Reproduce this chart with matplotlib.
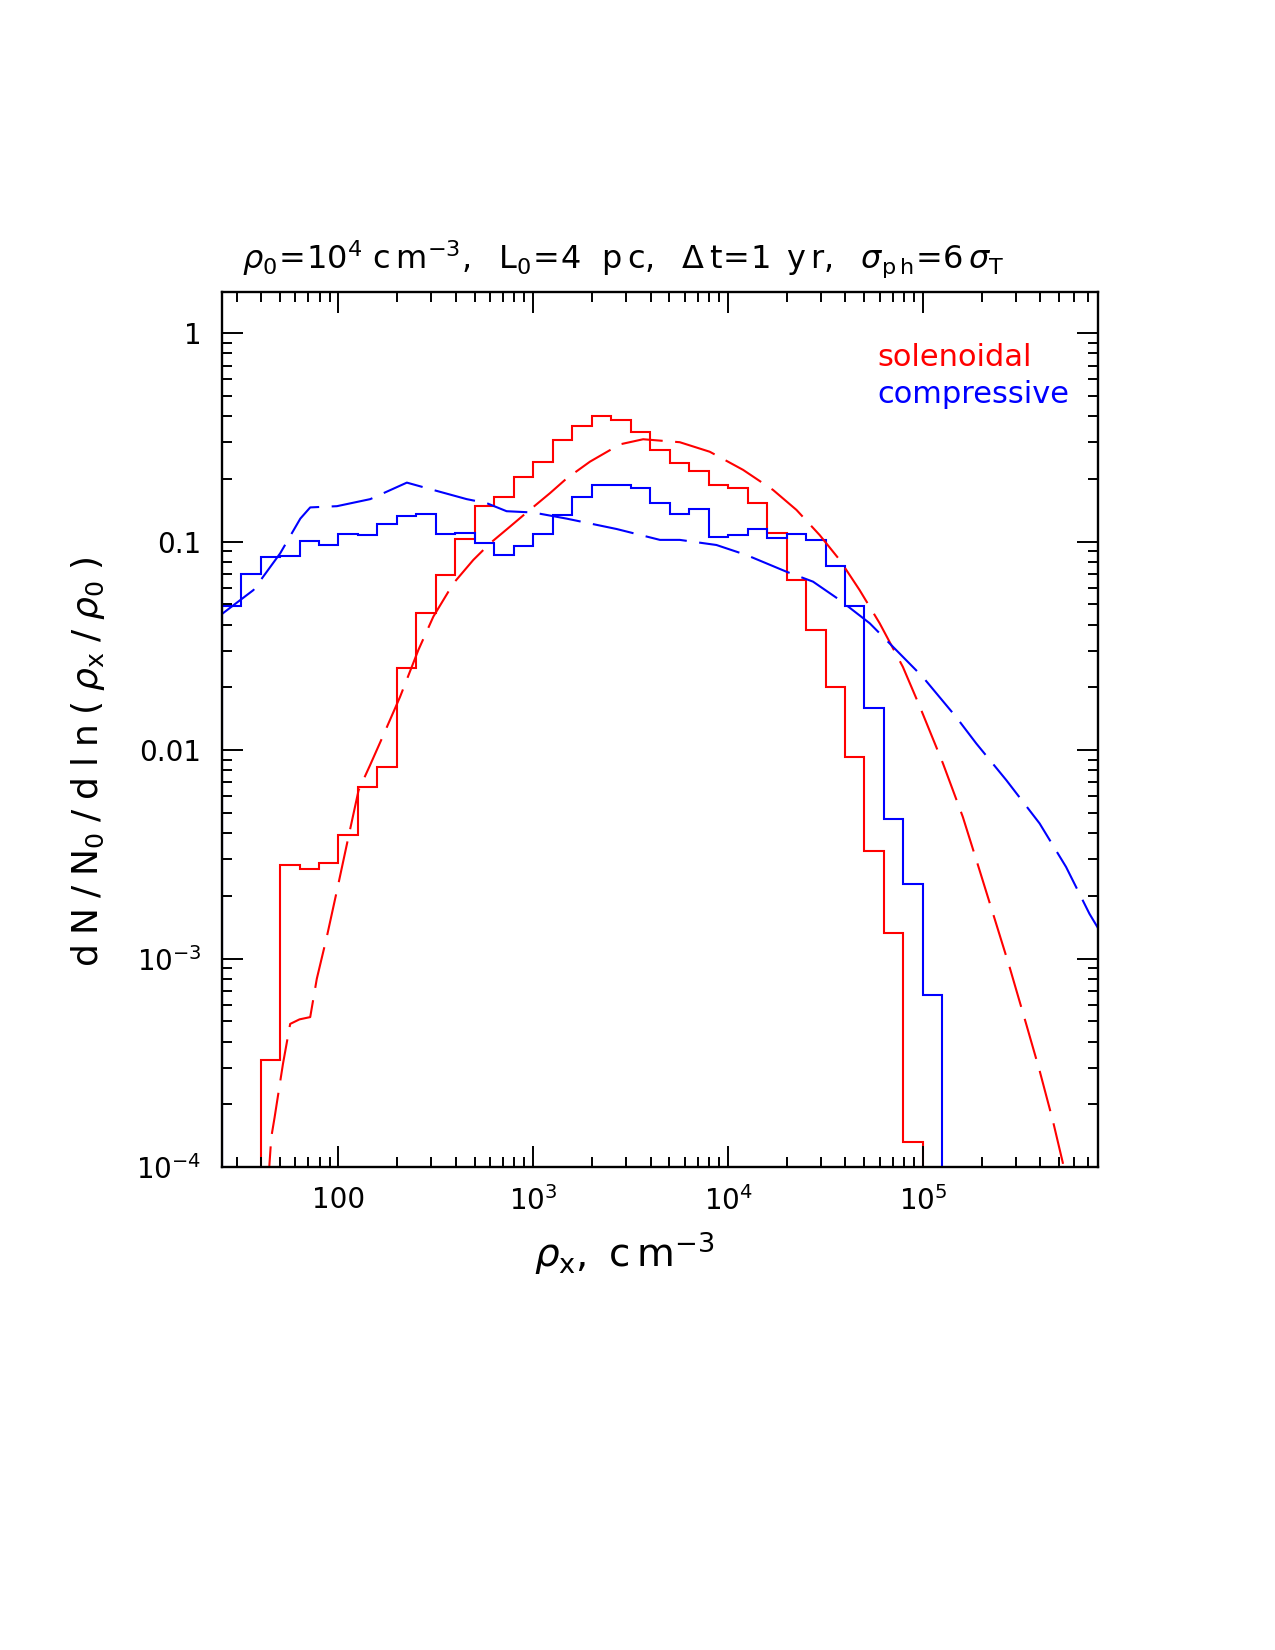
import numpy as np
import matplotlib
matplotlib.use("Agg")
import matplotlib.pyplot as plt
from matplotlib.ticker import FixedLocator, FixedFormatter, LogLocator, NullFormatter

# ---------------- data ----------------
# histogram bin edges (cm^-3), 0.1 dex wide
edges = [25.12, 31.62, 39.81, 50.12, 63.10, 79.43, 100.0, 125.9, 158.5, 199.5,
         251.2, 316.2, 398.1, 501.2, 631.0, 794.3, 1000.0, 1259.0, 1585.0, 1995.0,
         2512.0, 3162.0, 3981.0, 5012.0, 6310.0, 7943.0, 1.0e4, 12589.0, 15849.0, 19953.0,
         25119.0, 31623.0, 39811.0, 50119.0, 63096.0, 79433.0, 1.0e5, 125893.0]

# compressive histogram (bins starting at 25.12)
comp_hist = [0.049, 0.070, 0.084, 0.085, 0.101, 0.096, 0.109, 0.108, 0.121, 0.133,
             0.136, 0.109, 0.1095, 0.099, 0.086, 0.0955, 0.109, 0.134, 0.164, 0.188,
             0.186, 0.1815, 0.154, 0.136, 0.1435, 0.105, 0.1076, 0.1154, 0.1037, 0.1084,
             0.1018, 0.0764, 0.049, 0.016, 0.00468, 0.00227, 0.000666]

# solenoidal histogram (bins starting at 39.81)
sol_hist = [3.27e-4, 2.82e-3, 2.70e-3, 2.89e-3, 3.93e-3, 6.66e-3, 8.3e-3, 0.0248, 0.0456, 0.0691,
            0.1026, 0.1477, 0.1637, 0.2035, 0.2404, 0.306, 0.359, 0.401, 0.385, 0.335,
            0.276, 0.238, 0.218, 0.188, 0.180, 0.154, 0.1096, 0.0652, 0.0379, 0.020,
            0.00928, 0.00328, 0.00132, 1.32e-4]

# solenoidal dashed curve
sol_curve_x = [43.4, 45.2, 47.0, 51.9, 56.5, 63.1, 71.6, 77.4, 87.1, 98.2,
               112.5, 126.8, 145.6, 167.1, 207.0, 257.0, 306.9, 389.0, 492.0, 600.0,
               758.6, 924.7, 1219, 1483, 1954, 2786, 3664, 5649, 8054, 11940,
               17022, 22439, 29512, 37411, 47315, 59979, 78886, 96605, 126765, 160325,
               195434, 237684, 278612, 338844, 397192, 464515, 522396, 537032]
sol_curve_y = [7.94e-5, 1.39e-4, 1.73e-4, 3.13e-4, 4.86e-4, 5.11e-4, 5.24e-4, 8.0e-4, 1.27e-3, 2.12e-3,
               3.83e-3, 6.41e-3, 8.51e-3, 0.01138, 0.0180, 0.0302, 0.0437, 0.0631, 0.0817, 0.0982,
               0.118, 0.138, 0.171, 0.201, 0.242, 0.293, 0.310, 0.300, 0.270, 0.221,
               0.177, 0.142, 0.1076, 0.0817, 0.0586, 0.0406, 0.0251, 0.0161, 8.63e-3, 4.78e-3,
               2.65e-3, 1.47e-3, 9.10e-4, 4.86e-4, 2.90e-4, 1.67e-4, 1.05e-4, 8.9e-5]

# compressive dashed curve
comp_curve_x = [25.0, 36.6, 50.2, 63.7, 71.6, 98.2, 145.6, 224.4, 306.9, 455.0,
                576.8, 729.5, 1000, 1483, 2679, 4467, 5649, 8710, 12417, 19907,
                27290, 37411, 53333, 72946, 100000, 148252, 187932, 267917, 397192, 543250,
                716143, 799834]
comp_curve_y = [0.0447, 0.0586, 0.0879, 0.129, 0.146, 0.148, 0.160, 0.192, 0.177, 0.160,
                0.153, 0.140, 0.138, 0.129, 0.115, 0.102, 0.102, 0.0964, 0.0863, 0.0718,
                0.0643, 0.0525, 0.0406, 0.0302, 0.0224, 0.0144, 0.01076, 7.18e-3, 4.45e-3, 2.75e-3,
                1.64e-3, 1.38e-3]

x_ticks = [100, 1e3, 1e4, 1e5]
x_tick_labels = ["100", r"$10^3$", r"$10^4$", r"$10^5$"]
y_ticks = [1e-4, 1e-3, 1e-2, 0.1, 1]
y_tick_labels = [r"$10^{-4}$", r"$10^{-3}$", "0.01", "0.1", "1"]

# ---------------- style ----------------
plt.rcParams["font.family"] = ["DejaVu Sans"]
plt.rcParams["mathtext.fontset"] = "dejavusans"
plt.rcParams["mathtext.default"] = "regular"

fig = plt.figure(figsize=(12.75, 16.5), dpi=100)
ax = fig.add_axes([0.1744, 0.2927, 0.6866, 0.5301])

RED = "#ff0000"
BLUE = "#0000ff"
lw = 1.5

ax.stairs(sol_hist, edges[2:37], baseline=1e-6, fill=False, color=RED, lw=lw)
ax.stairs(comp_hist, edges, baseline=1e-6, fill=False, color=BLUE, lw=lw)
ax.plot(sol_curve_x, sol_curve_y, color=RED, lw=lw, dashes=(20, 6))
ax.plot(comp_curve_x, comp_curve_y, color=BLUE, lw=lw, dashes=(20, 6))

ax.set_xscale("log")
ax.set_yscale("log")
ax.set_xlim(25.35, 7.9e5)
ax.set_ylim(1e-4, 1.57)

ax.xaxis.set_major_locator(FixedLocator(x_ticks))
ax.xaxis.set_major_formatter(FixedFormatter(x_tick_labels))
ax.yaxis.set_major_locator(FixedLocator(y_ticks))
ax.yaxis.set_major_formatter(FixedFormatter(y_tick_labels))
ax.xaxis.set_minor_locator(LogLocator(base=10, subs=np.arange(2, 10), numticks=20))
ax.yaxis.set_minor_locator(LogLocator(base=10, subs=np.arange(2, 10), numticks=20))
ax.xaxis.set_minor_formatter(NullFormatter())
ax.yaxis.set_minor_formatter(NullFormatter())

ax.tick_params(which="both", direction="in", top=True, right=True, colors="black")
ax.tick_params(which="major", length=15, width=1.4, labelsize=20)
ax.tick_params(which="minor", length=7.5, width=1.4)
ax.tick_params(axis="x", which="major", pad=14)
ax.tick_params(axis="y", which="major", pad=15)
for s in ax.spines.values():
    s.set_linewidth(1.7)

# title
ax.text(0.023, 1.027,
        r"$\mathit{\rho}_0\!=\!10^4\ c\,m^{-3},\ \ L_0\!=\!4\ \ p\,c,\ \ \Delta\,t\!=\!1\ \,y\,r,\ \ \mathit{\sigma}_{p\,h}\!=\!6\,\mathit{\sigma}_T$",
        transform=ax.transAxes, ha="left", va="baseline", fontsize=23)

# axis labels
ax.text(0.356, -0.099, r"$\mathit{\rho}_x,\ c\,m^{-3}$", transform=ax.transAxes,
        ha="left", va="center", fontsize=28)
ax.text(-0.1535, 0.229, r"$d\;N\;/\;N_0\;/\;d\;l\;n\;(\;\mathit{\rho}_x\;/\;\mathit{\rho}_0\;)$",
        transform=ax.transAxes, ha="center", va="bottom", rotation=90, fontsize=26)

# legend text
ax.text(0.7485, 0.916, "solenoidal", color=RED, transform=ax.transAxes,
        ha="left", va="baseline", fontsize=22)
ax.text(0.7485, 0.873, "compressive", color=BLUE, transform=ax.transAxes,
        ha="left", va="baseline", fontsize=22)

fig.savefig("out.png", dpi=100, facecolor="white")
